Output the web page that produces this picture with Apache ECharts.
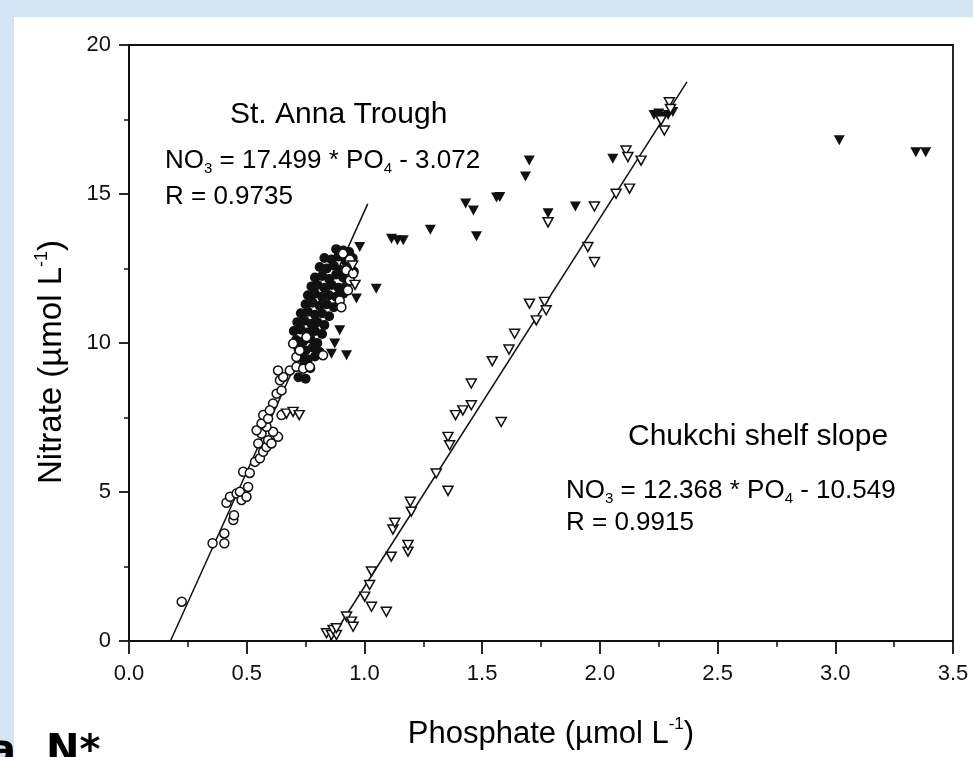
<!DOCTYPE html>
<html>
<head>
<meta charset="utf-8">
<script src="https://cdn.jsdelivr.net/npm/echarts@6.0.0/dist/echarts.min.js"></script>
<style>
html,body{margin:0;padding:0;background:#d3e4f7;}
#chart{width:973px;height:757px;}
</style>
</head>
<body>
<div id="chart"></div>
<script>
// ---- Data ----
const xAxisRange = [0, 3.5];
const yAxisRange = [0, 20];

// St. Anna Trough - dense filled circles
const stAnnaFilled = [
  [0.88,13.15],[0.91,13.1],[0.935,13.05],
  [0.83,12.85],[0.86,12.8],[0.89,12.9],[0.92,12.75],[0.95,12.85],
  [0.81,12.55],[0.84,12.5],[0.87,12.6],[0.9,12.45],[0.93,12.55],[0.955,12.4],
  [0.79,12.2],[0.82,12.25],[0.85,12.15],[0.88,12.3],[0.91,12.2],[0.94,12.1],
  [0.775,11.9],[0.8,11.95],[0.83,11.85],[0.86,11.95],[0.89,11.85],[0.92,11.9],
  [0.76,11.6],[0.79,11.65],[0.82,11.55],[0.85,11.6],[0.88,11.55],[0.91,11.65],
  [0.75,11.3],[0.78,11.35],[0.81,11.25],[0.84,11.3],[0.87,11.2],
  [0.73,11.0],[0.76,11.05],[0.79,10.95],[0.82,11.0],[0.85,10.9],
  [0.715,10.7],[0.745,10.75],[0.775,10.65],[0.8,10.7],[0.83,10.6],
  [0.7,10.4],[0.73,10.45],[0.76,10.35],[0.79,10.4],[0.82,10.3],
  [0.71,10.1],[0.74,10.05],[0.77,10.15],[0.8,10.0],
  [0.72,9.8],[0.75,9.75],[0.78,9.85],[0.81,9.7],
  [0.73,9.5],[0.76,9.45],[0.79,9.55],
  [0.74,9.2],[0.77,9.15],
  [0.72,8.85],[0.75,8.8]
];

// St. Anna Trough - open circles
const stAnnaOpen = [
  [0.224,1.32],[0.355,3.28],[0.405,3.28],[0.405,3.61],[0.414,4.64],[0.443,4.06],[0.446,4.22],
  [0.429,4.84],[0.457,4.95],[0.478,4.73],[0.471,5.01],[0.499,4.84],[0.506,5.17],[0.485,5.68],
  [0.513,5.64],[0.535,6.01],[0.556,6.13],[0.549,6.63],[0.570,6.35],[0.584,6.51],[0.563,6.96],
  [0.542,7.07],[0.591,6.74],[0.605,6.63],[0.633,6.85],[0.612,7.02],[0.584,7.19],[0.563,7.30],
  [0.570,7.58],[0.591,7.46],[0.612,7.97],[0.648,7.58],[0.598,7.74],
  [0.627,8.30],[0.648,8.41],[0.641,8.75],[0.655,8.86],[0.633,9.08],[0.683,9.08],[0.711,9.20],
  [0.740,9.14],[0.768,9.20],[0.711,9.53],[0.697,9.98],[0.725,9.75],[0.754,10.20],[0.824,9.59],
  [0.909,13.0],[0.938,12.8],[0.923,12.44],[0.938,12.1],[0.952,12.33],[0.930,11.77],[0.895,11.43],[0.902,11.2]
];

// Chukchi shelf slope - open inverted triangles
const chukchiOpen = [
  [0.839,0.26],[0.860,0.2],[0.881,0.2],[0.867,0.37],[0.881,0.43],[0.924,0.82],[0.945,0.65],[0.952,0.48],
  [1.001,1.49],[1.022,1.88],[1.030,2.33],[1.030,1.15],[1.093,0.98],[1.114,2.83],[1.185,3.0],[1.121,3.74],
  [1.129,3.97],[1.185,3.22],[1.195,4.67],[1.199,4.34],[1.305,5.62],[1.355,5.04],[1.355,6.85],[1.362,6.57],
  [1.418,7.74],[1.387,7.58],[1.454,7.91],[1.454,8.64],[1.581,7.35],[1.543,9.39],[1.614,9.78],[1.638,10.31],
  [1.730,10.76],[1.701,11.32],[1.765,11.38],[1.772,11.1],[1.949,13.22],[1.977,12.72],[1.78,14.05],[1.977,14.58],
  [2.069,15.01],[2.126,15.18],[2.175,16.12],[2.111,16.46],[2.119,16.24],[2.26,17.47],[2.274,17.13],[2.295,18.08],[2.30,17.85],
  [0.669,7.63],[0.697,7.69],[0.723,7.58],[0.95,12.6],[0.96,11.95]
];

// Filled inverted triangles
const filledTriangles = [
  [0.980,13.22],[1.05,11.82],[0.966,11.49],[0.895,10.43],[0.874,9.98],[0.924,9.59],[0.860,9.64],
  [1.115,13.5],[1.14,13.45],[1.165,13.45],[1.28,13.8],[1.43,14.68],[1.463,14.45],[1.476,13.58],
  [1.561,14.88],[1.575,14.9],[1.684,15.59],[1.70,16.12],[1.78,14.35],[1.896,14.58],[2.055,16.18],
  [2.23,17.65],[2.25,17.7],[2.27,17.6],[2.29,17.65],[2.31,17.75],[3.017,16.8],[3.342,16.4],[3.384,16.4]
];

// Regression lines (end points)
const fitStAnna = [[0.176,0],[1.014,14.67]];
const fitChukchi = [[0.853,0],[2.37,18.76]];

// ---- Chart ----
const FONT = '"Liberation Sans", Arial, Helvetica, sans-serif';
const BOLDFONT = '"DejaVu Sans", Verdana, sans-serif';
const INK = '#111';
const chart = echarts.init(document.getElementById('chart'), null, {renderer: 'canvas'});

const eqRich = {
  n: {fontSize: 26, fontFamily: FONT, color: INK, lineHeight: 30},
  s: {fontSize: 15, fontFamily: FONT, color: INK, lineHeight: 12, verticalAlign: 'bottom'}
};
const titleRich = {
  n: {fontSize: 31, fontFamily: FONT, color: INK, lineHeight: 36},
  p: {fontSize: 17, fontFamily: FONT, color: INK, lineHeight: 17, verticalAlign: 'top'}
};
const yTitleRich = {
  n: {fontSize: 33, fontFamily: FONT, color: INK, lineHeight: 38},
  p: {fontSize: 18, fontFamily: FONT, color: INK, lineHeight: 18, verticalAlign: 'top'}
};

function txt(x, y, text, rich) {
  return {type: 'text', x: x, y: y, z: 50,
    style: {text: text, rich: rich, align: 'left', verticalAlign: 'middle'}};
}

const option = {
  animation: false,
  backgroundColor: '#d3e4f7',
  grid: {left: 129, right: 20, top: 45, bottom: 116, show: true, borderColor: INK, borderWidth: 1.8, backgroundColor: 'transparent'},
  xAxis: {
    type: 'value', min: xAxisRange[0], max: xAxisRange[1], interval: 0.5,
    axisLine: {show: true, onZero: false, lineStyle: {color: INK, width: 1.8}},
    axisTick: {show: true, length: 13, lineStyle: {color: INK, width: 1.8}},
    minorTick: {show: true, splitNumber: 2, length: 6, lineStyle: {color: INK, width: 1.5}},
    splitLine: {show: false},
    axisLabel: {fontSize: 22, fontFamily: FONT, color: INK, margin: 22, formatter: v => v.toFixed(1)}
  },
  yAxis: {
    type: 'value', min: yAxisRange[0], max: yAxisRange[1], interval: 5,
    axisLine: {show: true, onZero: false, lineStyle: {color: INK, width: 1.8}},
    axisTick: {show: true, length: 10, lineStyle: {color: INK, width: 1.8}},
    minorTick: {show: true, splitNumber: 2, length: 5, lineStyle: {color: INK, width: 1.5}},
    splitLine: {show: false},
    axisLabel: {fontSize: 22, fontFamily: FONT, color: INK, margin: 18}
  },
  graphic: [
    {type: 'rect', z: -100, shape: {x: 14, y: 17, width: 959, height: 740}, style: {fill: '#ffffff'}},
    txt(230, 115, '{t|St. Anna Trough}', {t: {fontSize: 30, fontFamily: FONT, color: INK}}),
    txt(165, 161, '{n|NO}{s|3}{n| = 17.499 * PO}{s|4}{n| - 3.072}', eqRich),
    txt(165, 197, '{n|R = 0.9735}', eqRich),
    txt(628, 437, '{t|Chukchi shelf slope}', {t: {fontSize: 30, fontFamily: FONT, color: INK}}),
    txt(566, 491, '{n|NO}{s|3}{n| = 12.368 * PO}{s|4}{n| - 10.549}', eqRich),
    txt(566, 523, '{n|R = 0.9915}', eqRich),
    {type: 'text', x: 551, y: 734, z: 50, style: {text: '{n|Phosphate (µmol L}{p|-1}{n|)}', rich: titleRich, align: 'center', verticalAlign: 'middle'}},
    {type: 'text', x: 52, y: 362, z: 50, rotation: Math.PI / 2, style: {text: '{n|Nitrate (µmol L}{p|-1}{n|)}', rich: yTitleRich, align: 'center', verticalAlign: 'middle'}},
    {type: 'text', x: 16, y: 753, z: 50, style: {text: 'a', font: 'bold 40px ' + BOLDFONT, fill: '#000', align: 'right', verticalAlign: 'middle'}},
    {type: 'text', x: 46, y: 753, z: 50, style: {text: 'N*', font: 'bold 40px ' + BOLDFONT, fill: '#000', align: 'left', verticalAlign: 'middle'}}
  ],
  series: [
    {type: 'line', data: fitStAnna, symbol: 'none', lineStyle: {color: INK, width: 1.5}, z: 3},
    {type: 'line', data: fitChukchi, symbol: 'none', lineStyle: {color: INK, width: 1.5}, z: 3},
    {type: 'scatter', data: stAnnaFilled, symbol: 'circle', symbolSize: 10, itemStyle: {color: INK, opacity: 1}, z: 4},
    {type: 'scatter', data: filledTriangles, symbol: 'triangle', symbolRotate: 180, symbolSize: [11, 10], itemStyle: {color: INK, opacity: 1}, z: 5},
    {type: 'scatter', data: stAnnaOpen, symbol: 'circle', symbolSize: 9, itemStyle: {color: '#fff', borderColor: INK, borderWidth: 1.5, opacity: 1}, z: 6},
    {type: 'scatter', data: chukchiOpen, symbol: 'triangle', symbolRotate: 180, symbolSize: [10, 9], itemStyle: {color: '#fff', borderColor: INK, borderWidth: 1.5, opacity: 1}, z: 6}
  ]
};
chart.setOption(option);
</script>
</body>
</html>
